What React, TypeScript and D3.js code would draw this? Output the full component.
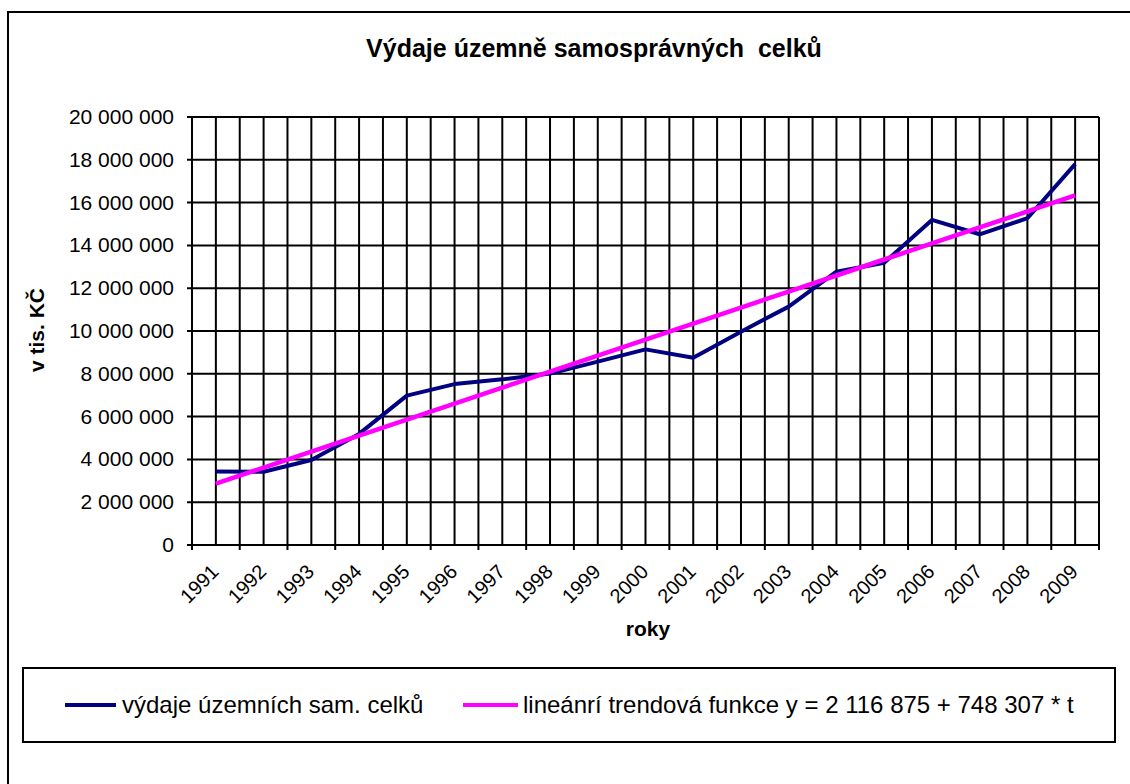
import React from "react";
import * as d3 from "d3";

const years = [
  "1991", "1992", "1993", "1994", "1995", "1996", "1997", "1998", "1999", "2000",
  "2001", "2002", "2003", "2004", "2005", "2006", "2007", "2008", "2009",
];

// výdaje územních sam. celků (v tis. Kč)
const expenses = [
  3430000, 3420000, 3970000, 5190000, 6980000, 7520000, 7740000, 8010000, 8570000, 9140000,
  8750000, 9970000, 11140000, 12770000, 13190000, 15190000, 14520000, 15270000, 17800000,
];

// lineární trend, y = 2 116 875 + 748 307 * t
const trend = [
  2865182, 3613489, 4361796, 5110103, 5858410, 6606717, 7355024, 8103331, 8851638, 9599945,
  10348252, 11096559, 11844866, 12593173, 13341480, 14089787, 14838094, 15586401, 16334708,
];

const yTicks = [0, 2000000, 4000000, 6000000, 8000000, 10000000, 12000000, 14000000, 16000000, 18000000, 20000000];

const title = "Výdaje územně samosprávných  celků";
const seriesNames = ["výdaje územních sam. celků", "lineánrí trendová funkce y = 2 116 875 + 748 307 * t"];
const colors = ["#000080", "#ff00ff"];

const font = "'Liberation Sans', Arial, sans-serif";

export default function App() {
  const width = 1130;
  const height = 784;
  const plot = { left: 192, right: 1099, top: 117, bottom: 545 };

  const x = d3.scaleBand().domain(years).range([plot.left, plot.right]).padding(0);
  const bw = x.bandwidth();
  const cx = (i: number) => (x(years[i]) as number) + bw / 2;
  const y = d3.scaleLinear().domain([0, 20000000]).range([plot.bottom, plot.top]);

  const fmt = (v: number) => d3.format(",")(v).replace(/,/g, " ");

  const line = d3
    .line<number>()
    .x((d, i) => cx(i))
    .y((d) => y(d));

  // vertical grid lines sit on every band edge and every band middle
  const vLines: number[] = [];
  years.forEach((yr) => {
    const x0 = x(yr) as number;
    vLines.push(x0, x0 + bw / 2);
  });
  vLines.push(plot.right);

  return (
    <svg
      width={width}
      height={height}
      style={{ position: "absolute", left: 0, top: 0, background: "#fff" }}
      fontFamily={font}
    >
      <rect x={8} y={12} width={1200} height={900} fill="none" stroke="#000" strokeWidth={2} />

      <text x={594} y={57} textAnchor="middle" fontSize={25} fontWeight="bold" style={{ whiteSpace: "pre" }}>
        {title}
      </text>

      {/* grid */}
      <g stroke="#000" strokeWidth={2}>
        {yTicks.map((t) => (
          <line key={t} x1={plot.left - 5} x2={plot.right} y1={y(t)} y2={y(t)} />
        ))}
        {vLines.map((v, i) => (
          <line key={i} x1={v} x2={v} y1={plot.top} y2={plot.bottom} />
        ))}
        {years.map((yr) => (
          <line key={yr} x1={x(yr) as number} x2={x(yr) as number} y1={plot.bottom} y2={plot.bottom + 5} />
        ))}
        <line x1={plot.right} x2={plot.right} y1={plot.bottom} y2={plot.bottom + 5} />
      </g>

      {/* y tick labels */}
      <g fontSize={21} textAnchor="end">
        {yTicks.map((t) => (
          <text key={t} x={174} y={y(t) + 7}>
            {fmt(t)}
          </text>
        ))}
      </g>

      {/* x tick labels */}
      <g fontSize={20} textAnchor="end">
        {years.map((yr, i) => (
          <text key={yr} transform={`translate(${cx(i) + 4},${plot.bottom + 28}) rotate(-45)`}>
            {yr}
          </text>
        ))}
      </g>

      <text
        transform={`translate(44,330) rotate(-90)`}
        textAnchor="middle"
        fontSize={21}
        fontWeight="bold"
      >
        v tis. KČ
      </text>
      <text x={648} y={636} textAnchor="middle" fontSize={21} fontWeight="bold">
        roky
      </text>

      {/* series */}
      <path d={line(expenses) as string} fill="none" stroke={colors[0]} strokeWidth={4} strokeLinejoin="round" />
      <path d={line(trend) as string} fill="none" stroke={colors[1]} strokeWidth={4.5} />

      {/* legend */}
      <rect x={23} y={668} width={1092} height={74} fill="none" stroke="#000" strokeWidth={2} />
      <line x1={65} x2={116} y1={705} y2={705} stroke={colors[0]} strokeWidth={4} />
      <text x={122} y={713} fontSize={24}>
        {seriesNames[0]}
      </text>
      <line x1={463} x2={518} y1={705} y2={705} stroke={colors[1]} strokeWidth={4} />
      <text x={523} y={713} fontSize={24}>
        {seriesNames[1]}
      </text>
    </svg>
  );
}
